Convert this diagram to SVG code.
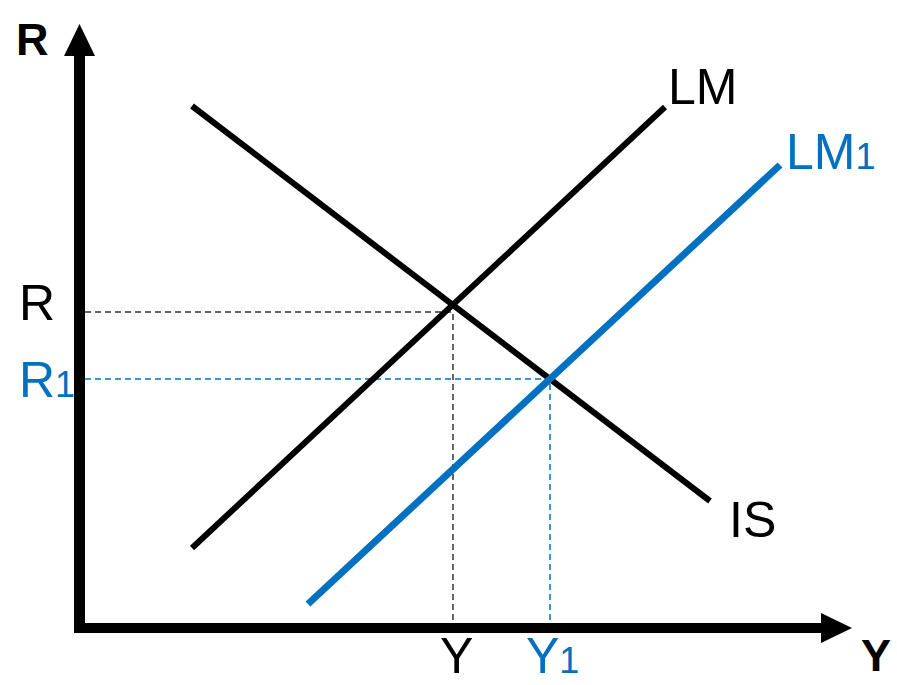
<svg xmlns="http://www.w3.org/2000/svg" width="897" height="685" viewBox="0 0 897 685">
<style>
.t{font-family:"Liberation Sans",Arial,sans-serif;font-size:50px;fill:#000}
.b{fill:#0070C0}
.s{font-size:36px}
.bold{font-weight:bold;font-size:45px}
</style>
<rect width="897" height="685" fill="#fff"/>
<g id="axes">
<line x1="79.5" y1="50" x2="79.5" y2="633" stroke="#000" stroke-width="11"/>
<polygon points="79.5,24 64,56 95,56" fill="#000"/>
<line x1="74" y1="628" x2="826" y2="628" stroke="#000" stroke-width="10"/>
<polygon points="852,628 821,613 821,643" fill="#000"/>
<text class="t bold" x="16" y="55">R</text>
<text class="t bold" x="861" y="671">Y</text>
</g>
<g id="connectors">
<path d="M85,312H453V623" fill="none" stroke="#333" stroke-width="1.5" stroke-dasharray="6,4"/>
<path d="M85,379H550V623" fill="none" stroke="#0070C0" stroke-width="1.5" stroke-dasharray="6,4"/>
</g>
<g id="IS">
<line x1="192" y1="106" x2="710" y2="501" stroke="#000" stroke-width="6"/>
<text class="t" x="729" y="537">IS</text>
</g>
<g id="LM">
<line x1="192" y1="548" x2="665" y2="107" stroke="#000" stroke-width="6"/>
<text class="t" x="668" y="104">LM</text>
</g>
<g id="LM1">
<line x1="308" y1="604" x2="780" y2="165" stroke="#0070C0" stroke-width="7"/>
<text class="t b" x="786" y="169">LM<tspan class="s">1</tspan></text>
</g>
<g id="labels">
<text class="t" x="19" y="320">R</text>
<text class="t b" x="19" y="397">R<tspan class="s">1</tspan></text>
<text class="t" x="440" y="673">Y</text>
<text class="t b" x="526" y="673">Y<tspan class="s">1</tspan></text>
</g>
</svg>
